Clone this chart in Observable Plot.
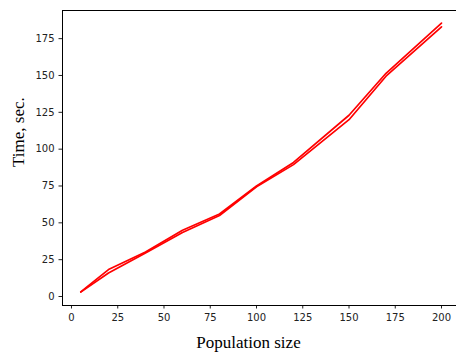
<!DOCTYPE html>
<html>
<head>
<meta charset="utf-8">
<script src="https://cdn.jsdelivr.net/npm/d3@7"></script>
<script src="https://cdn.jsdelivr.net/npm/@observablehq/plot@0.6"></script>
<style>
  html, body { margin: 0; padding: 0; background: #fff; }
</style>
</head>
<body>
<div id="chart"></div>
<script>
const popSizes = [5, 20, 40, 60, 80, 100, 120, 150, 170, 200];
const run1 = [3.2, 18.3, 30.2, 45, 56, 75, 91, 123, 151.5, 185.5];
const run2 = [3.0, 16.0, 29.5, 43.5, 55, 74.5, 89.5, 120, 149.5, 183];
const xTicks = [0, 25, 50, 75, 100, 125, 150, 175, 200];
const yTicks = [0, 25, 50, 75, 100, 125, 150, 175];
const xLabel = "Population size";
const yLabel = "Time, sec.";

const rows = [];
popSizes.forEach((p, i) => {
  rows.push({pop: p, time: run1[i], run: "run1"});
  rows.push({pop: p, time: run2[i], run: "run2"});
});

const chart = Plot.plot({
  width: 456,
  height: 354,
  marginLeft: 62,
  marginRight: 0,
  marginTop: 10,
  marginBottom: 49,
  style: {fontFamily: "DejaVu Sans", fontSize: "10px", color: "#222", background: "#fff"},
  x: {domain: [-4.86, 208.1]},
  y: {domain: [-6.1, 194.1]},
  marks: [
    Plot.axisX({ticks: xTicks, tickSize: 3.5, tickPadding: 4.5, label: null, fontSize: 10}),
    Plot.axisY({ticks: yTicks, tickSize: 3.5, tickPadding: 4.5, label: null, fontSize: 10}),
    Plot.line(rows, {x: "pop", y: "time", z: "run", stroke: "#ff0000", strokeWidth: 1.7}),
    Plot.frame({anchor: "top", stroke: "#000", strokeWidth: 1}),
    Plot.frame({anchor: "left", stroke: "#000", strokeWidth: 1}),
    Plot.frame({anchor: "bottom", stroke: "#000", strokeWidth: 1}),
    Plot.text([xLabel], {frameAnchor: "bottom", dx: -11, dy: 37, fontFamily: "Liberation Serif", fontSize: 17, fill: "#000", lineAnchor: "middle"}),
    Plot.text([yLabel], {frameAnchor: "left", dx: -44, dy: 9, rotate: -90, fontFamily: "Liberation Serif", fontSize: 17, fill: "#000", lineAnchor: "middle"})
  ]
});
document.getElementById("chart").appendChild(chart);
</script>
</body>
</html>
